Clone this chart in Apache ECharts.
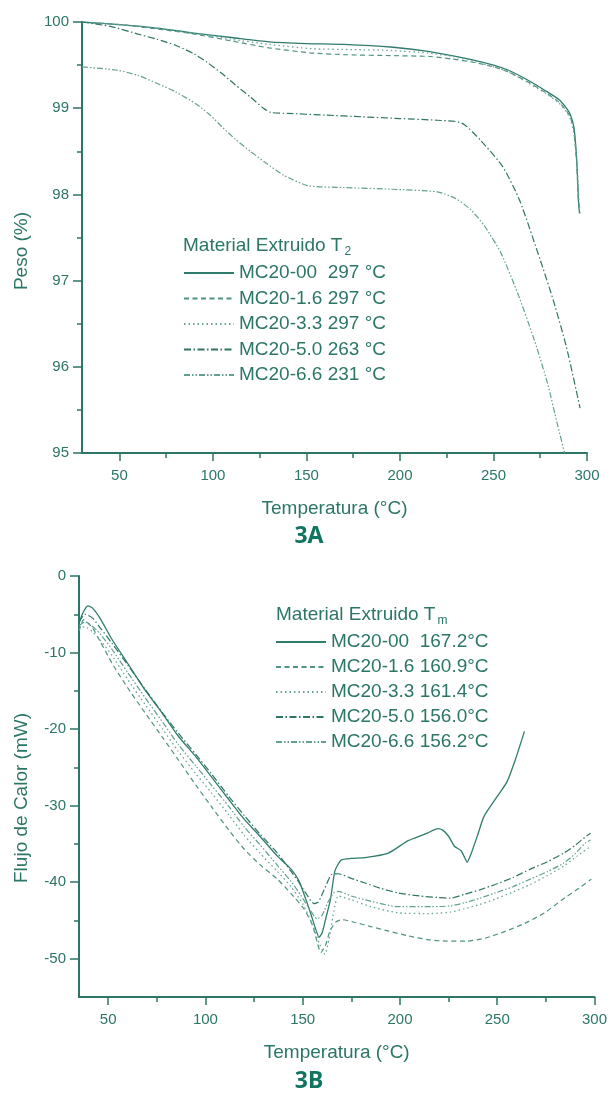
<!DOCTYPE html>
<html>
<head>
<meta charset="utf-8">
<script src="https://cdn.jsdelivr.net/npm/echarts@6/dist/echarts.min.js"></script>
<style>
  html, body { margin: 0; padding: 0; background: #fff; }
  #chart { width: 610px; height: 1093px; }
</style>
</head>
<body>
<div id="chart"></div>
<script>
// --- 3A: TGA, peso (%) vs temperatura ---
const tgaNames = ['MC20-00  297 °C', 'MC20-1.6 297 °C', 'MC20-3.3 297 °C', 'MC20-5.0 263 °C', 'MC20-6.6 231 °C']

const tgaT00 = [30, 50, 70, 90, 110, 130, 150, 170, 195, 215, 237, 250, 258, 268, 278, 285, 289, 291, 293, 294.5, 295.5, 296]
const tgaW00 = [100.0, 99.97, 99.93, 99.87, 99.82, 99.77, 99.75, 99.74, 99.71, 99.66, 99.57, 99.5, 99.44, 99.33, 99.2, 99.1, 99.0, 98.93, 98.78, 98.4, 97.9, 97.78]

const tgaT16 = [30, 50, 70, 90, 110, 130, 153, 172, 195, 216, 228, 240, 250, 258, 268, 278, 285, 289, 291, 293, 294.5, 295.5, 296.5]
const tgaW16 = [100.0, 99.97, 99.92, 99.86, 99.78, 99.7, 99.64, 99.62, 99.61, 99.6, 99.57, 99.53, 99.48, 99.42, 99.31, 99.18, 99.07, 98.97, 98.9, 98.75, 98.35, 97.9, 97.8]

const tgaT33 = [30, 50, 70, 90, 110, 130, 153, 175, 195, 215, 228, 240, 250, 258, 268, 278, 285, 289, 291, 293, 294.8, 295.8, 296.5]
const tgaW33 = [100.0, 99.97, 99.93, 99.87, 99.8, 99.74, 99.69, 99.68, 99.67, 99.64, 99.6, 99.54, 99.48, 99.42, 99.3, 99.17, 99.06, 98.96, 98.88, 98.7, 98.3, 97.9, 97.75]

const tgaT50 = [30, 45, 60, 70, 80, 90, 97, 105, 112, 120, 127, 131, 140, 160, 180, 200, 220, 233, 243, 255, 264, 275, 282, 289, 296.3]
const tgaW50 = [100.0, 99.95, 99.86, 99.8, 99.73, 99.63, 99.53, 99.4, 99.27, 99.13, 99.0, 98.95, 98.94, 98.92, 98.9, 98.88, 98.86, 98.83, 98.63, 98.32, 97.93, 97.24, 96.77, 96.23, 95.52]

const tgaT66 = [30, 49, 60, 70, 80, 91, 98, 105, 112, 120, 128, 138, 151, 170, 195, 220, 230, 238, 245, 254, 263, 272, 279, 284, 288]
const tgaW66 = [99.48, 99.44, 99.38, 99.29, 99.19, 99.05, 98.93, 98.78, 98.64, 98.5, 98.37, 98.22, 98.1, 98.08, 98.06, 98.03, 97.95, 97.82, 97.64, 97.32, 96.85, 96.3, 95.8, 95.35, 95.0]

// --- 3B: DSC, flujo de calor (mW) vs temperatura ---
const dscNames = ['MC20-00  167.2°C', 'MC20-1.6 160.9°C', 'MC20-3.3 161.4°C', 'MC20-5.0 156.0°C', 'MC20-6.6 156.2°C']

const dscT00 = [35, 37, 39.6, 42, 46, 52, 60, 69, 78, 86, 95, 103, 112, 120, 128, 137, 144, 148, 151, 154, 156.5, 158.4, 160, 162, 164.3, 166.6, 169.8, 175, 182, 194, 204, 208, 214, 219.5, 222, 225, 228, 231.4, 233.3, 234.5, 236.4, 240, 243.2, 250, 255, 259.3, 264]
const dscQ00 = [-6.2, -4.8, -3.9, -4.2, -5.6, -8.3, -11.4, -14.9, -18.0, -20.9, -23.6, -26.2, -29.2, -31.8, -34.0, -36.6, -38.3, -39.8, -41.8, -44.0, -46.0, -47.2, -46.6, -44.6, -42.2, -38.5, -37.1, -36.9, -36.8, -36.2, -34.6, -34.2, -33.6, -33.0, -33.2, -34.0, -35.3, -35.9, -36.8, -37.4, -36.4, -33.8, -31.4, -28.8, -26.9, -24.0, -20.3]

const dscT16 = [35, 37.4, 42, 46, 52, 60, 69, 78, 86, 95, 103, 112, 120, 128, 137, 144, 150.7, 155, 157.5, 159.3, 161.5, 164, 167, 170.3, 176, 185, 194.3, 204, 214.3, 224, 234.4, 244, 254.4, 264, 274.3, 285, 292, 298.4]
const dscQ16 = [-7.2, -5.7, -6.8, -8.6, -11.4, -14.6, -17.9, -21.1, -24.0, -27.3, -30.1, -33.2, -35.7, -37.7, -39.6, -41.5, -43.5, -45.6, -47.9, -49.2, -48.4, -46.4, -45.2, -44.9, -45.2, -45.8, -46.4, -47.0, -47.5, -47.7, -47.7, -47.3, -46.4, -45.4, -44.0, -42.0, -40.8, -39.6]

const dscT33 = [35, 38, 42, 46, 52, 60, 69, 78, 86, 95, 103, 112, 120, 128, 137, 144, 150, 155, 158.5, 161.4, 163.5, 166, 168.3, 175, 185, 199, 216, 226, 233, 241, 249, 258, 267, 276, 284.2, 291, 297]
const dscQ33 = [-7.0, -6.6, -7.3, -8.4, -10.4, -13.5, -16.8, -20.0, -22.9, -25.8, -28.3, -31.2, -33.9, -36.2, -38.6, -40.6, -42.8, -45.5, -48.0, -49.4, -47.5, -43.8, -41.8, -42.3, -43.2, -44.0, -44.1, -43.9, -43.5, -42.9, -42.2, -41.3, -40.3, -39.1, -37.9, -36.6, -35.5]

const dscT50 = [35, 38, 42, 46, 52, 60, 69, 78, 86, 95, 103, 112, 120, 128, 137, 144, 148, 152, 155.8, 158, 161, 164.8, 168.3, 175, 182, 190, 199, 210, 219.4, 226, 233, 241, 249, 258, 267, 276, 284.2, 290, 295.2, 298]
const dscQ50 = [-6.0, -5.0, -5.5, -6.8, -8.8, -11.6, -14.8, -17.9, -20.5, -23.3, -25.8, -28.8, -31.3, -33.7, -36.2, -38.6, -40.0, -41.6, -42.8, -42.6, -41.0, -39.0, -38.9, -39.5, -40.1, -40.8, -41.4, -41.8, -42.0, -42.1, -41.6, -41.0, -40.3, -39.4, -38.3, -37.3, -36.2, -35.2, -34.1, -33.6]

const dscT66 = [35, 38, 42, 46, 52, 60, 69, 78, 86, 95, 103, 112, 120, 128, 137, 144, 149, 153, 157.5, 160, 163, 166, 168.3, 175, 185, 199, 216, 226, 233, 241, 249, 258, 267, 276, 284.2, 290, 295.2, 298]
const dscQ66 = [-6.5, -6.0, -6.6, -7.6, -9.6, -12.6, -15.9, -19.1, -22.0, -24.8, -27.3, -30.1, -32.8, -35.1, -37.8, -39.9, -41.7, -43.3, -44.8, -44.3, -42.6, -41.4, -41.2, -41.8, -42.5, -43.2, -43.2, -43.1, -42.7, -42.1, -41.4, -40.6, -39.6, -38.6, -37.5, -36.3, -34.9, -34.5]

// tick values
const tempTicks = [50, 100, 150, 200, 250, 300]
const tempMinor = [75, 125, 175, 225, 275]
const dscTicks = [-50, -40, -30, -20, -10, 0]
const dscMinor = [-45, -35, -25, -15, -5]

const teal = '#2b7667'
const font = "'Liberation Sans', Arial, sans-serif"

function pairs(xs, ys) {
  return xs.map((x, i) => [x, ys[i]])
}

// line styles, same order as the names
const styles = [
  { color: '#2f7c6d', type: 'solid', width: 1.3 },
  { color: '#4f9284', type: [5, 3.5], width: 1.2 },
  { color: '#6aa697', type: [1.5, 3], width: 1.3 },
  { color: '#2f7566', type: [7, 2.5, 1.5, 2.5], width: 1.2 },
  { color: '#62a091', type: [6, 2, 1.5, 2, 1.5, 2], width: 1.2 }
]

function makeSeries(names, data, axisIdx) {
  return names.map((n, i) => ({
    name: n,
    type: 'line',
    xAxisIndex: axisIdx,
    yAxisIndex: axisIdx,
    data: data[i],
    symbol: 'none',
    smooth: 0.2,
    lineStyle: styles[i],
    itemStyle: { color: styles[i].color },
    silent: true
  }))
}

const tgaData = [pairs(tgaT00, tgaW00), pairs(tgaT16, tgaW16), pairs(tgaT33, tgaW33), pairs(tgaT50, tgaW50), pairs(tgaT66, tgaW66)]
const dscData = [pairs(dscT00, dscQ00), pairs(dscT16, dscQ16), pairs(dscT33, dscQ33), pairs(dscT50, dscQ50), pairs(dscT66, dscQ66)]

const axisLine = { show: true, onZero: false, lineStyle: { color: teal, width: 2 } }
const labelStyle = { color: teal, fontSize: 15, fontFamily: font }
const nameStyle = { color: teal, fontSize: 19, fontFamily: font }

function tempAxis(grid, min) {
  return [
    {
      type: 'value', gridIndex: grid, min: min, max: 300, position: 'bottom',
      axisLine: axisLine,
      axisTick: { show: true, inside: false, length: 8, customValues: tempTicks, lineStyle: { color: teal, width: 1.5 } },
      axisLabel: { show: true, margin: 15, customValues: tempTicks, ...labelStyle },
      splitLine: { show: false },
      name: 'Temperatura (°C)', nameLocation: 'middle', nameGap: 46, nameTextStyle: nameStyle
    },
    {
      type: 'value', gridIndex: grid, min: min, max: 300, position: 'bottom',
      axisLine: { show: false, onZero: false },
      axisTick: { show: true, length: 5, customValues: tempMinor, lineStyle: { color: teal, width: 1.5 } },
      axisLabel: { show: false },
      splitLine: { show: false }
    }
  ]
}

const xAxes = tempAxis(0, 30).concat(tempAxis(1, 35))

const yAxes = [
  {
    type: 'value', gridIndex: 0, min: 95, max: 100, interval: 1,
    axisLine: axisLine,
    axisTick: { show: true, length: 9, lineStyle: { color: teal, width: 1.5 } },
    minorTick: { show: true, splitNumber: 2, length: 5, lineStyle: { color: teal, width: 1.5 } },
    axisLabel: { margin: 13, ...labelStyle },
    splitLine: { show: false }
  },
  {
    type: 'value', gridIndex: 0, min: 95, max: 100, show: false
  },
  {
    type: 'value', gridIndex: 1, min: -55, max: 0,
    axisLine: axisLine,
    axisTick: { show: true, length: 9, customValues: dscTicks, lineStyle: { color: teal, width: 1.5 } },
    axisLabel: { margin: 13, customValues: dscTicks, ...labelStyle },
    splitLine: { show: false }
  },
  {
    type: 'value', gridIndex: 1, min: -55, max: 0, position: 'left',
    axisLine: { show: false, onZero: false },
    axisTick: { show: true, length: 5, customValues: dscMinor, lineStyle: { color: teal, width: 1.5 } },
    axisLabel: { show: false },
    splitLine: { show: false }
  }
]

function legendBlock(names, left, top, gap) {
  return {
    data: names,
    orient: 'vertical',
    left: left,
    top: top,
    padding: 0,
    itemWidth: 50,
    itemHeight: 14,
    itemGap: gap,
    selectedMode: false,
    itemStyle: { opacity: 0, borderWidth: 0 },
    textStyle: { color: teal, fontSize: 19, lineHeight: 20, fontFamily: font }
  }
}

function subTitle(x, y, main, sub) {
  return {
    type: 'text', x: x, y: y, silent: true,
    style: {
      text: '{a|' + main + '}{b|' + sub + '}',
      verticalAlign: 'middle',
      rich: {
        a: { fontSize: 19, fontFamily: font, fill: teal, lineHeight: 26, verticalAlign: 'bottom', padding: [0, 0, 3, 0] },
        b: { fontSize: 12, fontFamily: font, fill: teal, lineHeight: 26, verticalAlign: 'bottom', padding: [0, 0, 0, 2] }
      }
    }
  }
}

const boldFont = "'Noto Sans', 'Open Sans', sans-serif"

const chart = echarts.init(document.getElementById('chart'))
chart.setOption({
  animation: false,
  backgroundColor: '#fff',
  grid: [
    { left: 82, top: 22, width: 505, height: 431 },
    { left: 79, top: 576, width: 519, height: 421 }
  ],
  xAxis: xAxes,
  yAxis: yAxes,
  legend: [legendBlock(tgaNames, 183, 263, 5.5), legendBlock(dscNames, 275, 632, 5)],
  graphic: [
    subTitle(183, 245, 'Material Extruido T', '2'),
    subTitle(276, 614, 'Material Extruido T', 'm'),
    {
      type: 'text', x: 22, y: 251, rotation: Math.PI / 2, silent: true,
      style: { text: 'Peso (%)', fontSize: 19, fontFamily: font, fill: teal, align: 'center', verticalAlign: 'middle' }
    },
    {
      type: 'text', x: 22, y: 798, rotation: Math.PI / 2, silent: true,
      style: { text: 'Flujo de Calor (mW)', fontSize: 19, fontFamily: font, fill: teal, align: 'center', verticalAlign: 'middle' }
    },
    {
      type: 'text', x: 309, y: 536, silent: true,
      style: { text: '3A', fontSize: 23, fontWeight: 'bold', fontFamily: boldFont, fill: '#0f7561', align: 'center', verticalAlign: 'middle' }
    },
    {
      type: 'text', x: 309, y: 1081, silent: true,
      style: { text: '3B', fontSize: 23, fontWeight: 'bold', fontFamily: boldFont, fill: '#0f7561', align: 'center', verticalAlign: 'middle' }
    }
  ],
  series: makeSeries(tgaNames, tgaData, 0).concat(makeSeries(dscNames, dscData, 2))
})
</script>
</body>
</html>
